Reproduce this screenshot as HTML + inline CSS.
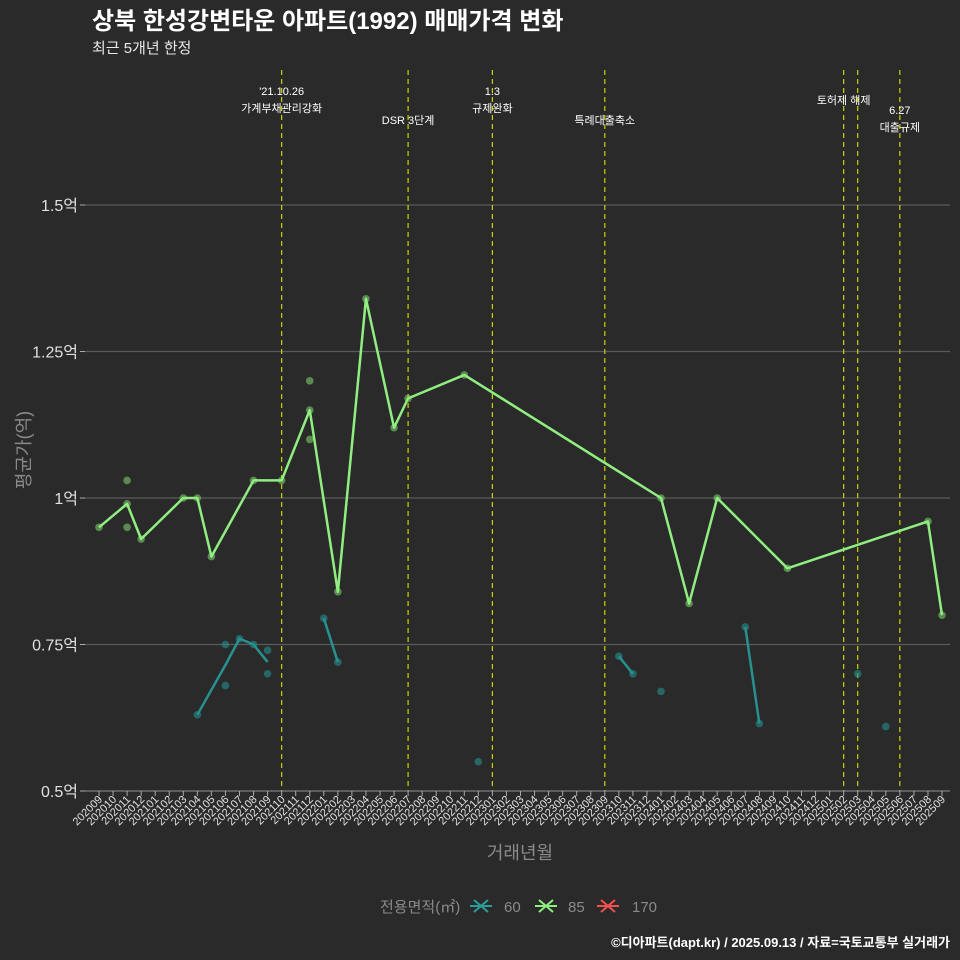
<!DOCTYPE html>
<html><head><meta charset="utf-8"><style>
body{margin:0;background:#2b2a2b;}
svg{display:block;font-family:"Liberation Sans","Noto Sans CJK KR",sans-serif;}
</style></head><body>
<svg id="chart" width="960" height="960" viewBox="0 0 960 960">
<rect width="960" height="960" fill="#2b2a2b"/>
<text x="92" y="29" fill="#ffffff" font-size="24" font-weight="bold">상북 한성강변타운 아파트(1992) 매매가격 변화</text>
<text x="92" y="53" fill="#e8e8e8" font-size="15">최근 5개년 한정</text>
<g id="grid"></g><g id="events"></g><g id="marks"></g><g id="xaxis"></g>
<text transform="translate(30,450) rotate(-90)" text-anchor="middle" fill="#8a8a8a" font-size="18">평균가(억)</text>
<text x="520" y="859" text-anchor="middle" fill="#8a8a8a" font-size="18">거래년월</text>
<g font-size="15" fill="#8a8a8a">
<text x="380" y="912">전용면적(㎡)</text>
<g><path d="M470,906h22M474,900l14,12M474,912l14,-12" stroke="#2a9d9a" stroke-width="2"/><text x="504" y="912">60</text></g>
<g><path d="M535,906h22M539,900l14,12M539,912l14,-12" stroke="#90ee80" stroke-width="2"/><text x="568" y="912">85</text></g>
<g><path d="M597,906h22M601,900l14,12M601,912l14,-12" stroke="#f05050" stroke-width="2"/><text x="632" y="912">170</text></g>
</g>
<text x="950" y="947" text-anchor="end" fill="#ffffff" font-size="13" font-weight="bold">©디아파트(dapt.kr) / 2025.09.13 / 자료=국토교통부 실거래가</text>
</svg>
<script>
const months=[];for(let y=2020,m=9;!(y===2025&&m>9);){months.push(''+y+String(m).padStart(2,'0'));m++;if(m>12){m=1;y++;}}
const yTicks=[0.5,0.75,1.0,1.25,1.5];
const yTickLabels=['0.5억','0.75억','1억','1.25억','1.5억'];
const line85Months=['202009','202011','202012','202103','202104','202105','202108','202110','202112','202202','202204','202206','202207','202211','202401','202403','202405','202410','202508','202509'];
const line85Values=[0.95,0.99,0.93,1.0,1.0,0.90,1.03,1.03,1.15,0.84,1.34,1.12,1.17,1.21,1.0,0.82,1.0,0.88,0.96,0.80];
const pts85Months=['202011','202011','202112','202112'];
const pts85Values=[1.03,0.95,1.20,1.10];
const line60Months=['202104','202106','202107','202108','202109','202201','202202','202310','202311','202407','202408'];
const line60Values=[0.63,0.715,0.76,0.75,0.72,0.795,0.72,0.73,0.70,0.78,0.615];
const pts60Months=['202104','202106','202106','202107','202108','202109','202109','202201','202202','202212','202310','202311','202401','202407','202408','202503','202505'];
const pts60Values=[0.63,0.75,0.68,0.76,0.75,0.74,0.70,0.795,0.72,0.55,0.73,0.70,0.67,0.78,0.615,0.70,0.61];
const eventMonths=['202110','202207','202301','202309','202502','202503','202506'];
const eventLabels=[["'21.10.26","가계부채관리강화"],["DSR 3단계"],["1.3","규제완화"],["특례대출축소"],["토허제 해제"],[],["6.27","대출규제"]];
const eventLabelY=[90,119,90,119,99,0,109];
const X=m=>99+14.05*months.indexOf(m);
const Y=v=>498-(v-1)*586;
const NS='http://www.w3.org/2000/svg';
function mk(p,t,a){const e=document.createElementNS(NS,t);for(const k in a)e.setAttribute(k,a[k]);p.appendChild(e);return e;}
const grid=document.getElementById('grid');
yTicks.forEach((v,i)=>{
 const l=mk(grid,'line',{x1:85,x2:950,y1:Y(v),y2:Y(v),stroke:'#5a5a5a','stroke-width':1.2});
 
 
 mk(grid,'line',{x1:80,x2:85,y1:Y(v),y2:Y(v),stroke:'#aaa'});
 const t=mk(grid,'text',{x:78,y:Y(v)+6,'text-anchor':'end',fill:'#e0e0e0','font-size':16});t.textContent=yTickLabels[i];
 
 
});
const ev=document.getElementById('events');
eventMonths.forEach((m,i)=>{
 const l=mk(ev,'line',{x1:X(m),x2:X(m),y1:70,y2:791,stroke:'#c8d400','stroke-width':1.2,'stroke-dasharray':'5,4'});
 
 
 eventLabels[i].forEach((s,j)=>{const t=mk(ev,'text',{x:X(m),y:eventLabelY[i]+17*j+5,'text-anchor':'middle',fill:'#ffffff','font-size':11});t.textContent=s;
 
 });
});
const xa=document.getElementById('xaxis');
mk(xa,'line',{x1:85,x2:950,y1:791,y2:791,stroke:'#888'});
months.forEach(m=>{
 mk(xa,'line',{x1:X(m),x2:X(m),y1:791,y2:796,stroke:'#aaa'});
 const t=mk(xa,'text',{transform:`translate(${X(m)+4},${800}) rotate(-45)`,'text-anchor':'end',fill:'#e0e0e0','font-size':11});t.textContent=m;
 
 
});
const mk_=document.getElementById('marks');
function pts(ms,vs,c,name){ms.forEach((m,i)=>{const p=mk(mk_,'circle',{cx:X(m),cy:Y(vs[i]),r:3.8,fill:c,'fill-opacity':0.6});
 
 });}
function seg(ms,vs,c,name,breakGaps){let d='';ms.forEach((m,i)=>{const cont=i>0&&(!breakGaps||months.indexOf(m)-months.indexOf(ms[i-1])<=2);d+=(cont?'L':'M')+X(m)+','+Y(vs[i]);});
 const p=mk(mk_,'path',{d:d,fill:'none',stroke:c,'stroke-width':2.5,'stroke-linejoin':'round'});
 
 }
pts(pts60Months,pts60Values,'#23908e','point-60');
seg(line60Months,line60Values,'#27918f','line-60',true);
pts(pts85Months,pts85Values,'#7ccc6a','point-85');
pts(line85Months,line85Values,'#7ccc6a','point-85');
seg(line85Months,line85Values,'#90ee80','line-85',false);
</script>
</body></html>
